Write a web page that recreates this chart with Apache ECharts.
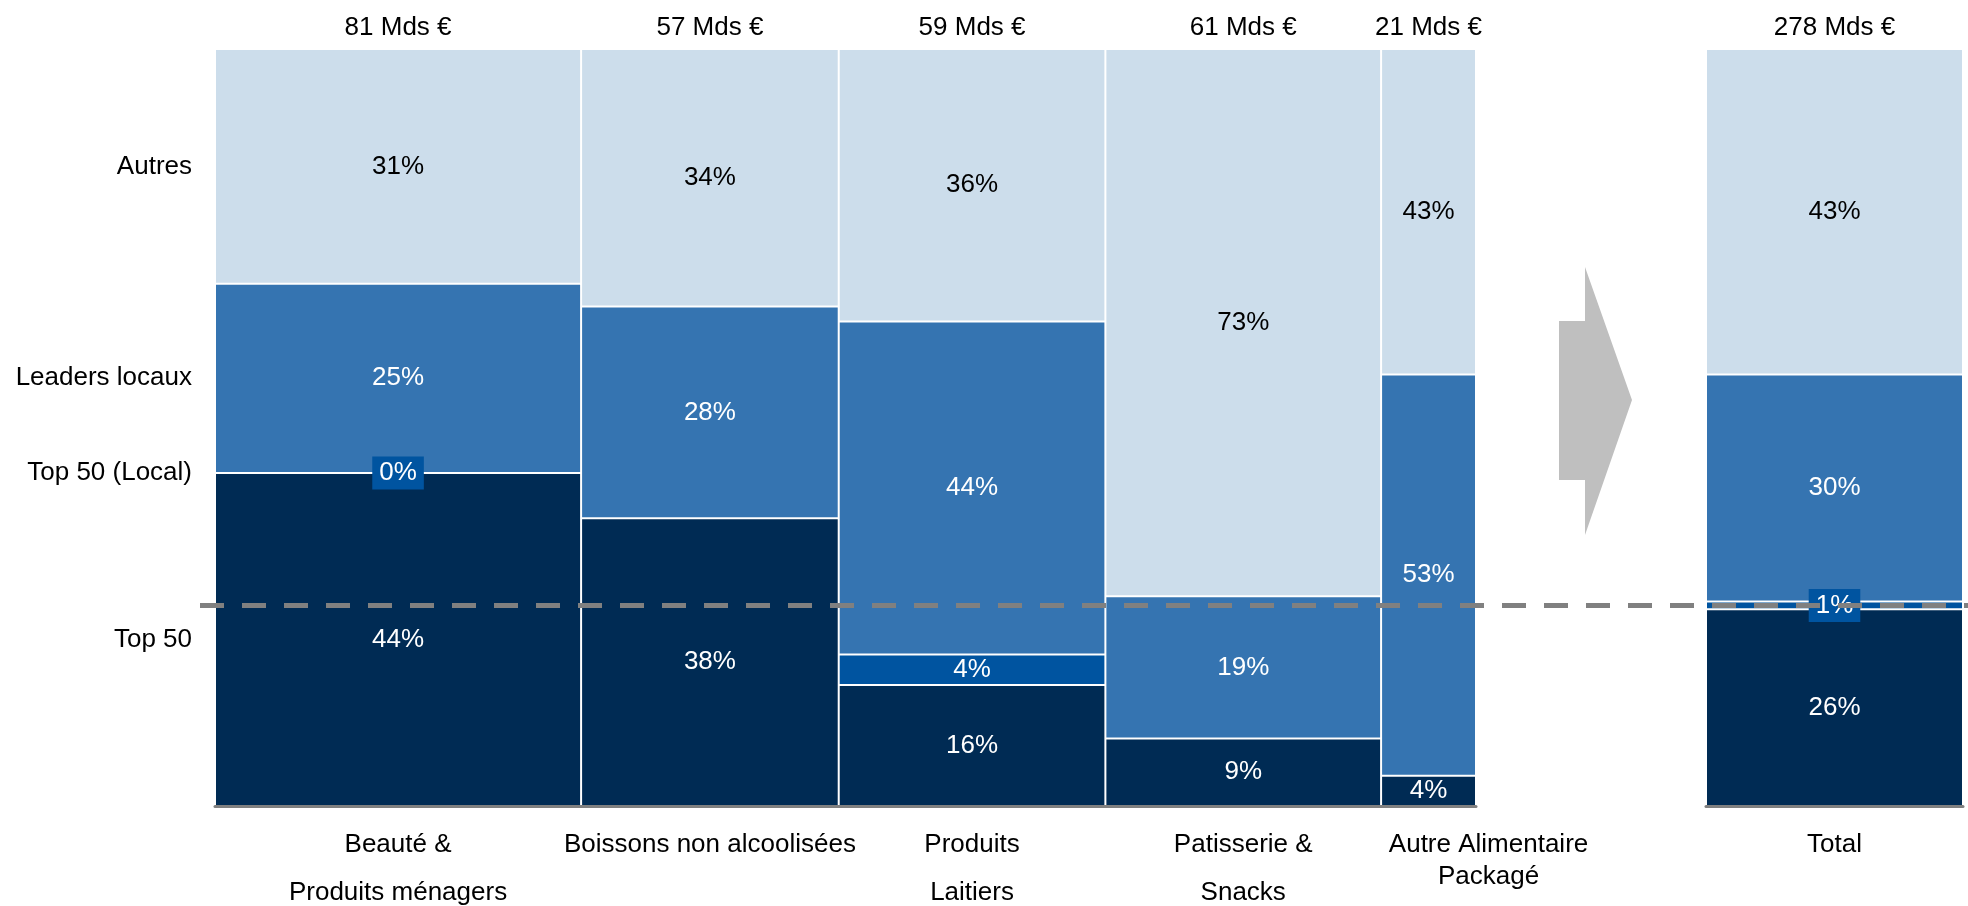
<!DOCTYPE html>
<html>
<head>
<meta charset="utf-8">
<script src="https://cdn.jsdelivr.net/npm/echarts@6/dist/echarts.min.js"></script>
<style>
  html, body { margin: 0; padding: 0; background: #ffffff; }
  #chart { width: 1968px; height: 906px; }
</style>
</head>
<body>
<div id="chart"></div>
<script>
// Market categories and their size (Mds €)
const categories = ['Beauté &\nProduits ménagers', 'Boissons non alcoolisées', 'Produits\nLaitiers', 'Patisserie &\nSnacks', 'Autre Alimentaire\nPackagé'];
const marketSize = [81, 57, 59, 61, 21];

// Share of each player group per category (%), bottom to top
const segmentNames = ['Top 50', 'Top 50 (Local)', 'Leaders locaux', 'Autres'];
const top50 = [44, 38, 16, 9, 4];
const top50Local = [0, null, 4, null, null];
const leadersLocaux = [25, 28, 44, 19, 53];
const autres = [31, 34, 36, 73, 43];

// Whole market
const totalName = 'Total';
const totalSize = 278;
const totalShares = [26, 1, 30, 43];

// Level of the dashed Top 50 reference line (%)
const top50Reference = 26.5;

// ---- styling ----
const FONT = "'Liberation Sans', Arial, sans-serif";
const COLORS = ['#002B54', '#0054A0', '#3574B1', '#CCDDEB'];
const TEXT_COLORS = ['#ffffff', '#ffffff', '#ffffff', '#000000'];
const GRID_TOP = 49, GRID_H = 757;
const catLineHeight = [48, 48, 48, 48, 32];
const catShift = [0, 0, 0, 0, 60];

const shareRows = [top50, top50Local, leadersLocaux, autres];

// Mekko rectangles: [x0, x1, y0, y1, segment, shownValue, categoryIndex]
function buildItems(sizes, sharesOf) {
  const items = [];
  let xStart = 0;
  sizes.forEach((size, i) => {
    const vals = sharesOf(i);
    const sum = vals.reduce((a, v) => a + (v == null ? 0 : v), 0);
    let y = 0;
    vals.forEach((v, s) => {
      if (v == null) return;
      const h = v / sum * 100;
      items.push([xStart, xStart + size, y, y + h, s, v, i]);
      y += h;
    });
    xStart += size;
  });
  return items;
}

const catItems = buildItems(marketSize, i => shareRows.map(r => r[i]));
const totalItems = buildItems([1], () => totalShares);
const catSum = marketSize.reduce((a, b) => a + b, 0);

function makeRenderer(catLabels, sizeLabels, opts) {
  return function (params, api) {
    const x0 = api.value(0), x1 = api.value(1), y0 = api.value(2), y1 = api.value(3);
    const seg = api.value(4), raw = api.value(5), cat = api.value(6);
    const pA = api.coord([x0, y0]);
    const pB = api.coord([x1, y1]);
    const left = pA[0], right = pB[0], bottom = pA[1], top = pB[1];
    const h = bottom - top;
    const cx = (left + right) / 2, cy = (top + bottom) / 2;
    const children = [];

    if (h > 2) {
      children.push({
        type: 'rect', z2: 0,
        shape: { x: left + 1, y: top + 1, width: right - left - 2, height: h - 2 },
        style: { fill: COLORS[seg] }
      });
    }

    // thin bands get a filled tag behind their value
    const small = h < 14;
    children.push({
      type: 'text', z2: 10,
      x: cx, y: cy,
      style: {
        text: raw + '%',
        fill: TEXT_COLORS[seg],
        font: '26px ' + FONT,
        align: 'center', verticalAlign: 'middle',
        backgroundColor: small ? COLORS[seg] : null,
        padding: small ? [4, 7, 3, 7] : 0
      }
    });

    // size label above the column
    if (seg === 3) {
      const yTop = api.coord([x0, 100])[1];
      children.push({
        type: 'text', z2: 10, x: cx, y: yTop - 21,
        style: { text: sizeLabels[cat] + ' Mds €', fill: '#000', font: '26px ' + FONT, align: 'center', verticalAlign: 'middle' }
      });
    }

    // category label under the column
    if (seg === 0) {
      const yBase = api.coord([x0, 0])[1];
      const lh = opts.lineHeight[cat];
      children.push({
        type: 'text', z2: 10, x: cx + opts.shift[cat], y: yBase + 39 - lh / 2,
        style: { text: catLabels[cat], fill: '#000', font: '26px ' + FONT, align: 'center', verticalAlign: 'top', lineHeight: lh }
      });
    }

    // group names beside the first column
    if (opts.names && cat === 0) {
      children.push({
        type: 'text', z2: 10, x: left - 23, y: cy,
        style: { text: segmentNames[seg], fill: '#000', font: '26px ' + FONT, align: 'right', verticalAlign: 'middle' }
      });
    }

    return { type: 'group', children };
  };
}

const chart = echarts.init(document.getElementById('chart'), null, { renderer: 'canvas' });

const axisCommon = {
  type: 'value',
  axisLine: { show: true, onZero: false, lineStyle: { color: '#808080', width: 3 } },
  axisTick: { show: false }, axisLabel: { show: false }, splitLine: { show: false }
};
const yCommon = { type: 'value', min: 0, max: 100, show: false };

chart.setOption({
  animation: false,
  backgroundColor: '#ffffff',
  grid: [
    { left: 215, top: GRID_TOP, width: 1261, height: GRID_H },
    { left: 1706, top: GRID_TOP, width: 257, height: GRID_H }
  ],
  xAxis: [
    Object.assign({ gridIndex: 0, min: 0, max: catSum }, axisCommon),
    Object.assign({ gridIndex: 1, min: 0, max: 1 }, axisCommon)
  ],
  yAxis: [
    Object.assign({ gridIndex: 0 }, yCommon),
    Object.assign({ gridIndex: 1 }, yCommon)
  ],
  series: [
    {
      type: 'custom', xAxisIndex: 0, yAxisIndex: 0,
      encode: { x: [0, 1], y: [2, 3] },
      renderItem: makeRenderer(categories, marketSize, { lineHeight: catLineHeight, shift: catShift, names: true }),
      data: catItems
    },
    {
      type: 'custom', xAxisIndex: 1, yAxisIndex: 1,
      encode: { x: [0, 1], y: [2, 3] },
      renderItem: makeRenderer([totalName], [totalSize], { lineHeight: [48], shift: [0], names: false }),
      data: totalItems
    }
  ]
});

// dashed Top 50 reference line and the arrow towards the total column
const refY = chart.convertToPixel({ gridIndex: 1 }, [0, top50Reference])[1];
chart.setOption({
  graphic: [
    {
      type: 'polygon', z: 50,
      shape: { points: [[1559, 321], [1585, 321], [1585, 267], [1632, 400], [1585, 535], [1585, 480], [1559, 480]] },
      style: { fill: '#BFBFBF' }
    },
    {
      type: 'line', z: 100,
      shape: { x1: 200, y1: refY, x2: 1968, y2: refY },
      style: { stroke: '#808080', lineWidth: 5, lineDash: [24, 18] }
    }
  ]
});
</script>
</body>
</html>
